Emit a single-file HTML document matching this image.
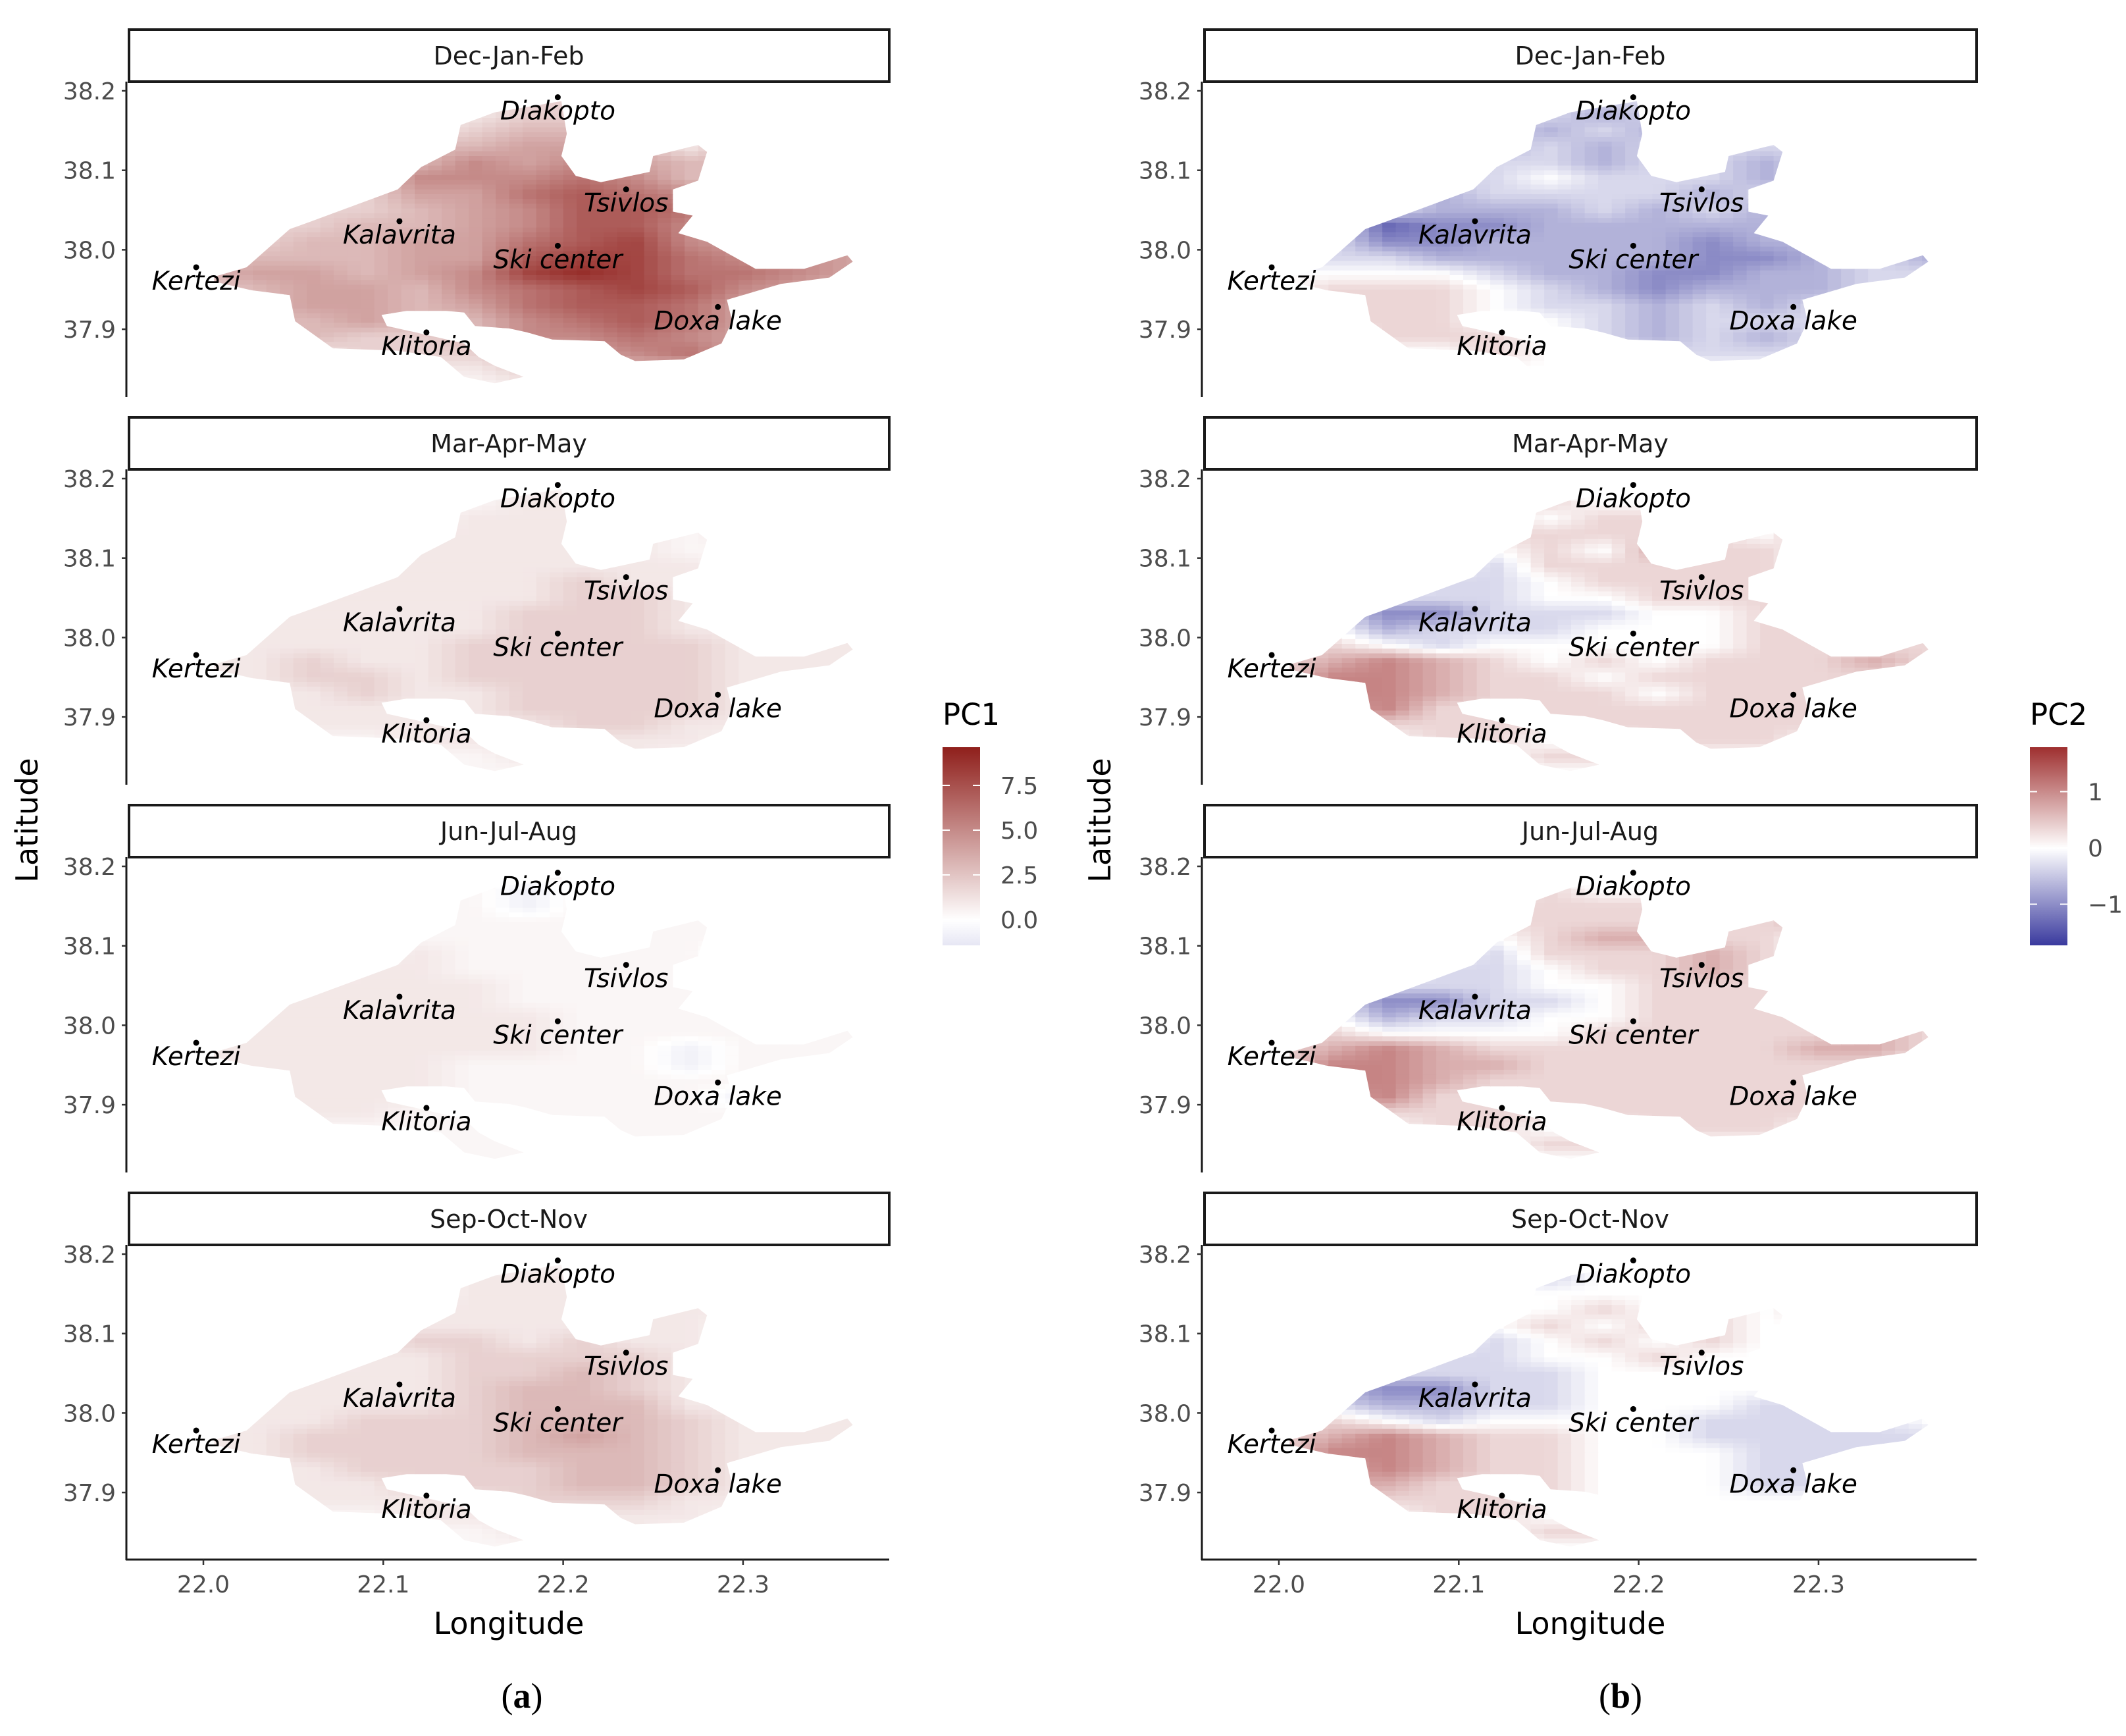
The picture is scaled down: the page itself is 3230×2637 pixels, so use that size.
<!DOCTYPE html>
<html><head><meta charset="utf-8"><style>
html,body{margin:0;padding:0;background:#fff}
svg{display:block}
</style></head><body>
<svg id="chart" width="3230" height="2637" viewBox="0 0 3230 2637" xmlns="http://www.w3.org/2000/svg" font-family="DejaVu Sans, Liberation Sans, sans-serif">
<defs>
<linearGradient id="gPC1" x1="0" y1="1" x2="0" y2="0">
<stop offset="0" stop-color="#e6e6f4"/><stop offset="0.127" stop-color="#ffffff"/><stop offset="1" stop-color="#8f1f1b"/>
</linearGradient>
<linearGradient id="gPC2" x1="0" y1="1" x2="0" y2="0">
<stop offset="0" stop-color="#3a3a9e"/><stop offset="0.49" stop-color="#ffffff"/><stop offset="1" stop-color="#9e2f2f"/>
</linearGradient>
</defs>
<g id="root"></g>
</svg>
<script>
// ---- data ----
const seasons = ["Dec-Jan-Feb","Mar-Apr-May","Jun-Jul-Aug","Sep-Oct-Nov"];
const gridLons = [22.00,22.03,22.06,22.09,22.12,22.15,22.18,22.21,22.24,22.27,22.30,22.33,22.36];
const gridLats = [38.19,38.17,38.15,38.13,38.11,38.09,38.07,38.05,38.03,38.01,37.99,37.97,37.95,37.93,37.91,37.89,37.87,37.85,37.83];
const yTickVals = [38.2,38.1,38.0,37.9];
const yTickLabels = ["38.2","38.1","38.0","37.9"];
const xTickVals = [22.0,22.1,22.2,22.3];
const xTickLabels = ["22.0","22.1","22.2","22.3"];
const placeNames = ["Diakopto","Tsivlos","Kalavrita","Ski center","Kertezi","Doxa lake","Klitoria"];
const placeLons = [22.197,22.235,22.109,22.197,21.996,22.286,22.124];
const placeLats = [38.192,38.076,38.036,38.005,37.978,37.928,37.896];
const outlineLons = [22.006,22.024,22.048,22.059,22.108,22.121,22.140,22.143,22.162,22.199,22.202,22.199,22.207,22.221,22.248,22.250,22.275,22.280,22.275,22.261,22.261,22.272,22.264,22.280,22.307,22.334,22.358,22.361,22.348,22.321,22.291,22.294,22.288,22.267,22.240,22.232,22.223,22.194,22.180,22.170,22.151,22.145,22.135,22.113,22.099,22.102,22.118,22.145,22.153,22.162,22.178,22.162,22.145,22.132,22.108,22.072,22.051,22.048,22.027,22.006];
const outlineLats = [37.966,37.978,38.026,38.035,38.076,38.104,38.126,38.157,38.173,38.187,38.146,38.118,38.093,38.085,38.098,38.118,38.132,38.123,38.087,38.076,38.048,38.043,38.021,38.010,37.976,37.976,37.993,37.985,37.965,37.957,37.937,37.910,37.882,37.862,37.860,37.868,37.885,37.887,37.896,37.901,37.904,37.921,37.923,37.923,37.918,37.904,37.896,37.882,37.865,37.854,37.840,37.832,37.840,37.865,37.873,37.876,37.910,37.943,37.949,37.960];
// PC1 levels: digit = value, '.' = 0.4, '-' = -0.7
const pc1DJF = ["....11222....","....112221...","....1233211..","...1334431331","...1354543311","..12555653311","..12446765311",".122345776411","1223345775411","2233446785411","3333447886554","3443458986654","2344356787543","2344346776432","2334335676431","1332235565411","1112223456411","...1112333...","......11....."];
const pc1MAM = [".............","......11.....",".....111.....","....11111.1..","....11111....","...1111111...","...1111211...","..111112211..",".11111222111.","1111112221111","1111122222111","1121122222111","1122122222111",".112112222111",".111112222111",".111111221111","....111111...","......111....","............."];
const pc1JJA = [".............","......-......","......-......","...........-.","...........-.","....1.....-..","...11........","..1111.......",".11111.......","1111111......","1111111......","1111111..-...","11111....-...",".1111.......-",".1111.....-.-",".111.........",".............",".............","............."];
const pc1SON = [".............",".....111.....",".....111.....","....1111111..","....111111...","...1221211...","...1122221...","..111223211..",".11112332111.","1111123331111","1112223332111","1122223432111","1122223332111",".112222332111",".111222332111",".111112221111","....111111...","......111....","............."];
// PC2 levels: value = (digit-5)*0.35
const pc2DJF = ["5554444445555","5554443445555","5554434345555","5554343444455","5554443443455","5554454443455","5553444434455","5543334343455","4412233333445","4422333323344","4443333322343","5555433223344","5666543233344","5666544343445","5666554344445","5566654343455","5555655444455","5555555555555","5555555555555"];
const pc2MAM = ["5555545555555","5555565555555","5555656655555","5555666665755","5555565766555","5555466666555","5554456666555","5544455666655","5422444556665","6534445556665","6654555556666","6787656566676","6887665666665","6887666566675","5786666666665","5766666666655","5556655666555","5555566555555","5555555555555"];
const pc2JJA = ["5555545555555","5555565555555","5555666655555","5555666666755","5555567766555","5555466676555","5554456676555","5544455666655","5422445666665","6534455666675","6655556666676","6787666666776","6887766666665","6887666666675","5786666666665","5766666666655","5556655666555","5555566555555","5555555555555"];
const pc2SON = ["5555545555555","5555545555555","5555555555555","5555556565655","5555565665555","5555456565555","5554455655555","5544445555555","5322445555555","5433445554455","6654555544445","6787665544444","6887665554444","6787665554445","5776665554445","5666665555555","5556655555555","5555566555555","5555555555555"];
const pc1Legend = [7.5,5.0,2.5,0.0];
const pc1LegendLabels = ["7.5","5.0","2.5","0.0"];
const pc2Legend = [1,0,-1];
const pc2LegendLabels = ["1","0","\u22121"];

// ---- helpers ----
const NS="http://www.w3.org/2000/svg";
const root=document.getElementById('root');
function mk(tag,attrs,parent){const e=document.createElementNS(NS,tag);for(const k in attrs)e.setAttribute(k,attrs[k]);(parent||root).appendChild(e);return e;}
function xScale(lon,c){return 309+(lon-22)*2733+c*1634;}
function yScale(lat,r){return 138+(38.2-lat)*1207+r*589;}
function mix(a,b,t){const pa=[parseInt(a.substr(1,2),16),parseInt(a.substr(3,2),16),parseInt(a.substr(5,2),16)];const pb=[parseInt(b.substr(1,2),16),parseInt(b.substr(3,2),16),parseInt(b.substr(5,2),16)];return 'rgb('+pa.map((v,i)=>Math.round(v+(pb[i]-v)*t)).join(',')+')';}
function colPC1(v){return v>=0?mix('#ffffff','#8f1f1b',Math.min(v/9.6,1)):mix('#ffffff','#3b3b9c',Math.min(-v/9.6,1));}
function colPC2(v){return v>=0?mix('#ffffff','#9e2f2f',Math.min(v/1.78,1)):mix('#ffffff','#3a3a9e',Math.min(-v/1.78,1));}
function parse1(ch){return ch==='-'?-0.7:(ch==='.'?0.4:+ch);}
function parse2(ch){return (+ch-5)*0.35;}
function valueAt(rows,parse,lon,lat){
  let fc=(lon-gridLons[0])/0.03, fr=(gridLats[0]-lat)/0.02;
  fc=Math.max(0,Math.min(gridLons.length-1,fc)); fr=Math.max(0,Math.min(gridLats.length-1,fr));
  const c0=Math.floor(fc),r0=Math.floor(fr),c1=Math.min(c0+1,gridLons.length-1),r1=Math.min(r0+1,gridLats.length-1);
  const tc=fc-c0,tr=fr-r0;
  const v=(r,c)=>parse(rows[r][c]);
  return (v(r0,c0)*(1-tc)+v(r0,c1)*tc)*(1-tr)+(v(r1,c0)*(1-tc)+v(r1,c1)*tc)*tr;
}

const pcData=[[pc1DJF,pc1MAM,pc1JJA,pc1SON],[pc2DJF,pc2MAM,pc2JJA,pc2SON]];

for(let c=0;c<2;c++){
  const extra=c===1?18:0;
  for(let r=0;r<4;r++){
    const g=mk('g',{});
    
    
    const yo=r*589, xo=c*1634;
    const strip=mk('rect',{x:196+xo,y:45+yo,width:1155+extra,height:79,fill:'#fff',stroke:'#1a1a1a','stroke-width':4},g);
    
    
    const st=mk('text',{x:773+xo+extra/2,y:98+yo,'text-anchor':'middle','font-size':38,fill:'#1a1a1a'},g);
    st.textContent=seasons[r];
    
    
    const cid='clip'+c+r;
    const cp=mk('clipPath',{id:cid},g);
    const pts=outlineLons.map((lo,i)=>xScale(lo,c).toFixed(1)+','+yScale(outlineLats[i],r).toFixed(1)).join(' ');
    mk('polygon',{points:pts},cp);
    const cells=mk('g',{'clip-path':'url(#'+cid+')'},g);
    
    
    const rows=pcData[c][r], parse=c===0?parse1:parse2, col=c===0?colPC1:colPC2;
    const dLon=0.0075,dLat=0.006;
    for(let lat=38.196;lat>37.826;lat-=dLat){
      for(let lon=21.99;lon<22.375;lon+=dLon){
        const v=valueAt(rows,parse,lon+dLon/2,lat-dLat/2);
        const x0=xScale(lon,c),y0=yScale(lat,r);
        const cell=mk('rect',{x:x0.toFixed(1),y:y0.toFixed(1),width:(dLon*2733+0.8).toFixed(1),height:(dLat*1207+0.8).toFixed(1),fill:col(v)},cells);
        
        
      }
    }
    for(let i=0;i<placeNames.length;i++){
      const px=xScale(placeLons[i],c),py=yScale(placeLats[i],r);
      const d=mk('circle',{cx:px,cy:py,r:4.5,fill:'#000'},g);
      
      
      const t=mk('text',{x:px,y:py+34,'text-anchor':'middle','font-size':39,'font-style':'italic',fill:'#000'},g);
      t.textContent=placeNames[i];
      
      
    }
    const ax=mk('line',{x1:192+xo,y1:124+yo,x2:192+xo,y2:603+yo,stroke:'#1a1a1a','stroke-width':3},g);
    
    
    yTickVals.forEach((v,i)=>{
      const y=yScale(v,r);
      mk('line',{x1:185+xo,y1:y,x2:192+xo,y2:y,stroke:'#333','stroke-width':2.5},g);
      const tl=mk('text',{x:176+xo,y:y+13,'text-anchor':'end','font-size':36,fill:'#4d4d4d'},g);
      tl.textContent=yTickLabels[i];
      
      
    });
    if(r===3){
      const bx=mk('line',{x1:191+xo,y1:2369,x2:1351+xo+extra,y2:2369,stroke:'#1a1a1a','stroke-width':3},g);
      
      
      xTickVals.forEach((v,i)=>{
        const x=xScale(v,c);
        mk('line',{x1:x,y1:2369,x2:x,y2:2377,stroke:'#333','stroke-width':2.5},g);
        const tl=mk('text',{x:x,y:2419,'text-anchor':'middle','font-size':36,fill:'#4d4d4d'},g);
        tl.textContent=xTickLabels[i];
        
        
      });
    }
  }
  const xo=c*1634;
  const lt=mk('text',{x:0,y:0,transform:'translate('+(57+xo-4*c)+',1246) rotate(-90)','text-anchor':'middle','font-size':46,fill:'#000'});
  lt.textContent='Latitude';
  
  
  const lg=mk('text',{x:773+xo+extra/2,y:2482,'text-anchor':'middle','font-size':46,fill:'#000'});
  lg.textContent='Longitude';
  
  
  const sub=mk('text',{x:793+c*1669,y:2594,'text-anchor':'middle','font-size':54,fill:'#000','font-family':'Liberation Serif, serif'});
  
  
  const s1=mk('tspan',{},sub); s1.textContent='(';
  const s2=mk('tspan',{'font-weight':'bold'},sub); s2.textContent=c===0?'a':'b';
  const s3=mk('tspan',{},sub); s3.textContent=')';
}
function legend(x,title,grad,vals,labels,vToY){
  const g=mk('g',{});
  
  
  const t=mk('text',{x:x,y:1101,'font-size':45,fill:'#000'},g);
  t.textContent=title;
  
  
  const b=mk('rect',{x:x,y:1135,width:57,height:301,fill:'url(#'+grad+')'},g);
  
  
  vals.forEach((v,i)=>{
    const y=vToY(v);
    mk('line',{x1:x,y1:y,x2:x+11,y2:y,stroke:'#fff','stroke-width':2},g);
    mk('line',{x1:x+46,y1:y,x2:x+57,y2:y,stroke:'#fff','stroke-width':2},g);
    const l=mk('text',{x:x+88,y:y+13,'font-size':36,fill:'#4d4d4d'},g);
    l.textContent=labels[i];
    
    
  });
}
legend(1432,'PC1','gPC1',pc1Legend,pc1LegendLabels,v=>1397-v*27.2);
legend(3084,'PC2','gPC2',pc2Legend,pc2LegendLabels,v=>1288-v*85.5);
</script>
</body></html>
